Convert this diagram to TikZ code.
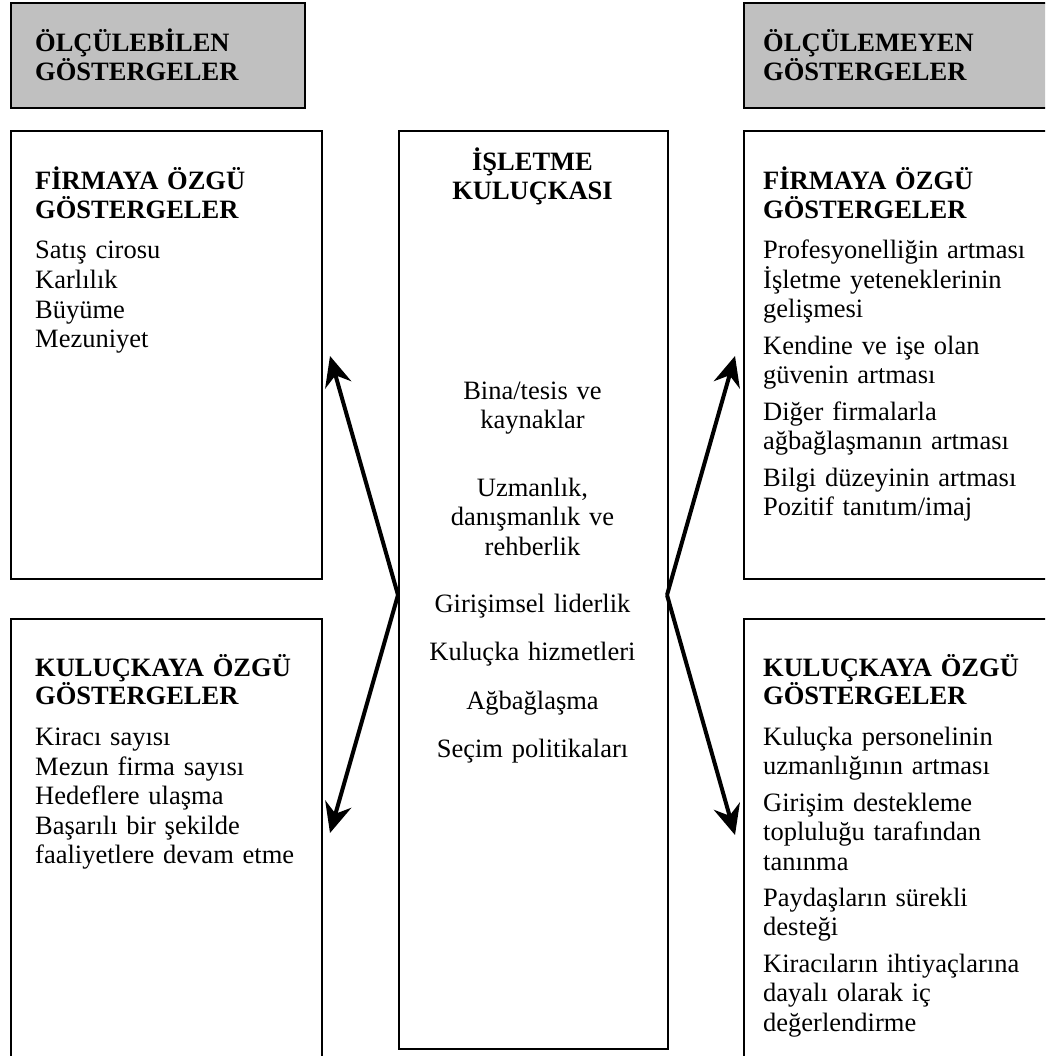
\documentclass[tikz,border=0pt]{standalone}
\usepackage{fontspec}
\setmainfont{Liberation Serif}
\usetikzlibrary{arrows.meta}
\definecolor{hdrgray}{RGB}{192,192,192}
\begin{document}
\begin{tikzpicture}[x=1pt,y=-1pt,
  box/.style={draw=black,line width=2pt,anchor=north west,inner sep=0pt},
  hdrbox/.style={box,fill=hdrgray},
  txt/.style={anchor=base west,inner sep=0pt,align=left,text width=290pt,
    font=\fontsize{26.5}{29.5}\selectfont},
  ctxt/.style={anchor=base,inner sep=0pt,align=center,text width=260pt,
    font=\fontsize{26.5}{29.5}\selectfont},
  hd/.style={txt,font=\fontsize{26.5}{28.5}\selectfont\bfseries},
  chd/.style={ctxt,font=\fontsize{26.5}{28.5}\selectfont\bfseries},
  arr/.style={line width=4pt,-{Stealth[length=30pt,width=27pt,inset=10pt]}}]
\useasboundingbox (0,0) rectangle (1045,1056);
\clip (0,0) rectangle (1045,1056);

% grey heading boxes
\node[hdrbox,minimum width=294pt,minimum height=105pt] (gl) at (10,2) {};
\node[hdrbox,minimum width=320pt,minimum height=105pt] (gr) at (743,2) {};
\node[hd] (glt) at (35,52) {ÖLÇÜLEBİLEN\\GÖSTERGELER};
\node[hd] (grt) at (763,52) {ÖLÇÜLEMEYEN\\GÖSTERGELER};

% frames
\node[box,minimum width=311pt,minimum height=448pt] (lf) at (10,130) {};
\node[box,minimum width=311pt,minimum height=460pt] (lk) at (10,618) {};
\node[box,minimum width=269pt,minimum height=918pt] (ctr) at (398,130) {};
\node[box,minimum width=320pt,minimum height=448pt] (rf) at (743,130) {};
\node[box,minimum width=320pt,minimum height=460pt] (rk) at (743,618) {};

% left: firm specific
\node[hd] (lfh) at (35,190) {FİRMAYA ÖZGÜ\\GÖSTERGELER};
\node[txt] (lf1) at (35,259) {Satış cirosu};
\node[txt] (lf2) at (35,288) {Karlılık};
\node[txt] (lf3) at (35,318) {Büyüme};
\node[txt] (lf4) at (35,347) {Mezuniyet};

% left: incubator specific
\node[hd] (lkh) at (35,676) {KULUÇKAYA ÖZGÜ\\GÖSTERGELER};
\node[txt] (lk1) at (35,745) {Kiracı sayısı};
\node[txt] (lk2) at (35,775) {Mezun firma sayısı};
\node[txt] (lk3) at (35,804) {Hedeflere ulaşma};
\node[txt] (lk4) at (35,834) {Başarılı bir şekilde\\faaliyetlere devam etme};

% centre column
\node[chd] (ch) at (532.5,171) {İŞLETME\\KULUÇKASI};
\node[ctxt] (c1) at (532.5,399) {Bina/tesis ve\\kaynaklar};
\node[ctxt] (c2) at (532.5,496) {Uzmanlık,\\danışmanlık ve\\rehberlik};
\node[ctxt] (c3) at (532.5,612) {Girişimsel liderlik};
\node[ctxt] (c4) at (532.5,660) {Kuluçka hizmetleri};
\node[ctxt] (c5) at (532.5,709) {Ağbağlaşma};
\node[ctxt] (c6) at (532.5,757) {Seçim politikaları};

% right: firm specific
\node[hd] (rfh) at (763,190) {FİRMAYA ÖZGÜ\\GÖSTERGELER};
\node[txt] (rf1) at (763,259) {Profesyonelliğin artması};
\node[txt] (rf2) at (763,288) {İşletme yeteneklerinin\\gelişmesi};
\node[txt] (rf3) at (763,354) {Kendine ve işe olan\\güvenin artması};
\node[txt] (rf4) at (763,420) {Diğer firmalarla\\ağbağlaşmanın artması};
\node[txt] (rf5) at (763,486) {Bilgi düzeyinin artması};
\node[txt] (rf6) at (763,515) {Pozitif tanıtım/imaj};

% right: incubator specific
\node[hd] (rkh) at (763,676) {KULUÇKAYA ÖZGÜ\\GÖSTERGELER};
\node[txt] (rk1) at (763,745) {Kuluçka personelinin\\uzmanlığının artması};
\node[txt] (rk2) at (763,811) {Girişim destekleme\\topluluğu tarafından\\tanınma};
\node[txt] (rk3) at (763,906) {Paydaşların sürekli\\desteği};
\node[txt] (rk4) at (763,972) {Kiracıların ihtiyaçlarına\\dayalı olarak iç\\değerlendirme};

% arrows from the centre column
\coordinate (vL) at (398,595);
\coordinate (vR) at (667,595);
\coordinate (tLU) at (330,356);
\coordinate (tLD) at (330,833);
\coordinate (tRU) at (735,356);
\coordinate (tRD) at (735,835);
\draw[arr] (vL) -- (tLU);
\draw[arr] (vL) -- (tLD);
\draw[arr] (vR) -- (tRU);
\draw[arr] (vR) -- (tRD);
\end{tikzpicture}
\end{document}
